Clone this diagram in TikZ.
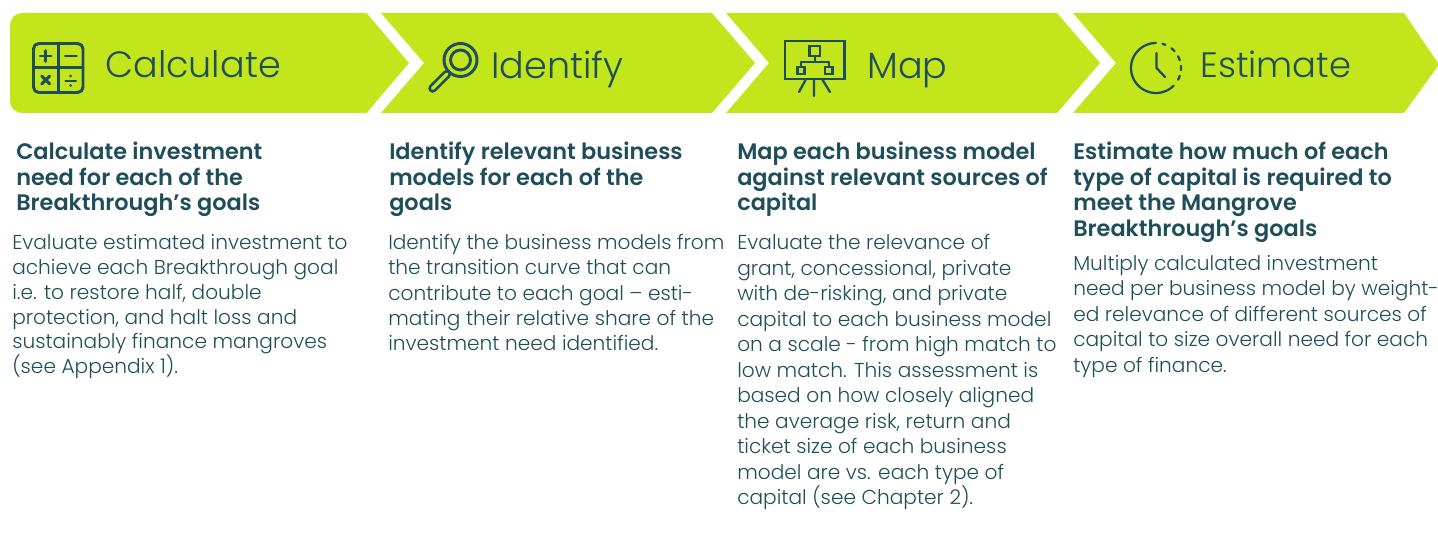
\documentclass[tikz,border=0pt]{standalone}
\usepackage{fontspec}
\setmainfont{Poppins}
\newfontfamily\lightf{Poppins Light}
\newfontfamily\headf{Poppins SemiBold}
\definecolor{lime}{HTML}{C2E51B}
\definecolor{ink}{HTML}{1F4E5B}
\newcommand{\bodyat}[1]{\lightf\fontsize{15.1}{#1}\selectfont}
\newcommand{\headsz}{\fontsize{16.8}{19.15}\selectfont}
\tikzset{
  chev/.style={fill=lime,draw=none},
  title/.style={anchor=base west,inner sep=0pt,text=ink,font=\lightf\fontsize{27.4}{30}\selectfont},
  head/.style={anchor=north west,inner sep=0pt,text=ink,align=left,font=\headf\headsz},
  body/.style={anchor=north west,inner sep=0pt,text=ink,align=left,font=\bodyat{#1}},
  ico/.style={draw=ink,line width=2.2pt,line cap=round,line join=round,fill=none},
  thin ico/.style={ico,line width=1.7pt}
}
\begin{document}
\begin{tikzpicture}[x=0.75pt,y=-0.75pt]
\useasboundingbox (0,0) rectangle (1438,552);
\fill[chev] (22,13) -- (366.5,13) -- (409,63) -- (366.5,113) -- (22,113) arc[start angle=90,end angle=180,radius=12] -- (10,25) arc[start angle=180,end angle=270,radius=12] -- cycle;
\fill[chev] (381,13) -- (712,13) -- (755,63) -- (712,113) -- (381,113) -- (424,63) -- cycle;
\fill[chev] (726,13) -- (1057,13) -- (1100,63) -- (1057,113) -- (726,113) -- (769,63) -- cycle;
\fill[chev] (1073,13) -- (1404,13) -- (1438,63) -- (1438,66) -- (1404,113) -- (1073,113) -- (1116,63) -- cycle;
\node[title] (t1) at (105,78) {Calculate};
\node[title] (t2) at (491,79) {Identify};
\node[title] (t3) at (867,79) {Map};
\node[title,font=\lightf\fontsize{26.5}{30}\selectfont] (t4) at (1200,78) {Estimate};
% calculator
\draw[ico,rounded corners=4pt] (33.5,43.5) rectangle (83,92.5);
\draw[ico] (58.3,43.5) -- (58.3,92.5) (33.5,67.7) -- (83,67.7);
\draw[ico] (40.2,56) -- (51.2,56) (45.7,50.5) -- (45.7,61.5) (65,56) -- (76.5,56);
\draw[ico] (41.7,76) -- (49.7,84) (49.7,76) -- (41.7,84);
\draw[thin ico] (65.5,80.7) -- (76,80.7);
\fill[ink] (70.7,76) circle (1.5) (70.7,85.5) circle (1.5);
% magnifier
\draw[ink,line width=6.4pt,line cap=round] (447,74) -- (432.5,88.5);
\draw[lime,line width=2.4pt,line cap=round] (447,74) -- (432.5,88.5);
\fill[lime] (460.5,60) circle (17);
\draw[ico] (460.5,60) circle (16.5);
\draw[ico] (460.5,60) circle (10);
% board
\draw[thin ico,line cap=butt,line join=miter] (785,41) rectangle (844.5,79);
\draw[thin ico] (806,79) -- (799,92) (814,79) -- (814,96) (822,79) -- (830,92);
\draw[thin ico,line join=miter] (809.5,46) rectangle (820,56) (797.5,67) rectangle (804.5,74) (825,67) rectangle (832.5,74);
\draw[thin ico] (814.8,56) -- (814.8,62) (801,67) -- (801,62) -- (829,62) -- (829,67);
% clock
\draw[thin ico] plot[domain=-90:-315,samples=50,smooth] ({1156+25*cos(\x)},{68+25*sin(\x)});
\foreach \a/\b in {-75/-68,-52/-42,-28/-18,-5/5,18/28}
  \draw[thin ico] plot[domain=\a:\b,samples=5,smooth] ({1156+25*cos(\x)},{68+25*sin(\x)});
\draw[thin ico] (1156.5,53) -- (1156.5,68) -- (1165,77);
% headings
\node[head] (h1) at (16,142) {Calculate investment\\need for each of the\\Breakthrough’s goals};
\node[head] (h2) at (389,142) {Identify relevant business\\models for each of the\\goals};
\node[head] (h3) at (737,142) {Map each business model\\against relevant sources of\\capital};
\node[head] (h4) at (1073,142) {Estimate how much of each\\type of capital is required to\\meet the Mangrove\\Breakthrough’s goals};
% bodies
\node[body=18.65] (b1) at (12,234) {Evaluate estimated investment to\\achieve each Breakthrough goal\\i.e. to restore half, double\\protection, and halt loss and\\sustainably finance mangroves\\(see Appendix 1).};
\node[body=18.94] (b2) at (388,234) {Identify the business models from\\the transition curve that can\\contribute to each goal – esti-\\mating their relative share of the\\investment need identified.};
\node[body=19.13] (b3) at (737,234) {Evaluate the relevance of\\grant, concessional, private\\with de-risking, and private\\capital to each business model\\on a scale - from high match to\\low match. This assessment is\\based on how closely aligned\\the average risk, return and\\ticket size of each business\\model are vs. each type of\\capital (see Chapter 2).};
\node[body=19.13] (b4) at (1073,255) {Multiply calculated investment\\need per business model by weight-\\ed relevance of different sources of\\capital to size overall need for each\\type of finance.};
\end{tikzpicture}
\end{document}
